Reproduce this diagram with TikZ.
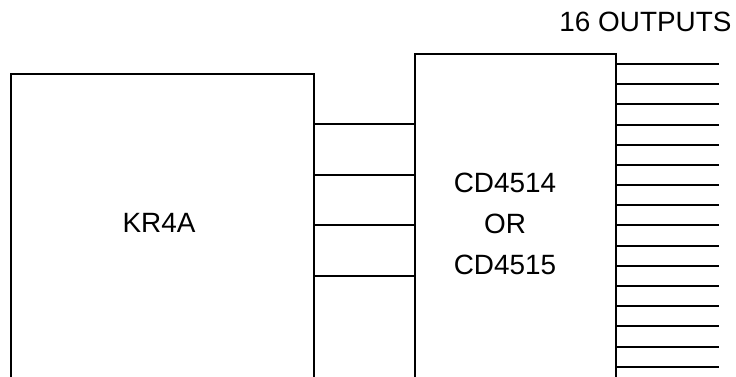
\documentclass[tikz,border=0pt]{standalone}
\usepackage{fontspec}
\setmainfont{Liberation Sans}
\usetikzlibrary{positioning}

\tikzset{
  chip/.style = {draw, line width=2bp, inner sep=0pt},
  wire/.style = {line width=2bp},
  lbl/.style  = {font=\fontsize{28}{41}\selectfont, align=center, inner sep=0pt}
}

\begin{document}
\begin{tikzpicture}[x=1bp, y=-1bp]
    \useasboundingbox (0,0) rectangle (736,376);
    \clip (0,0) rectangle (736,376);

    % the two blocks, both run off the bottom edge
    \node[chip, minimum width=303bp, minimum height=346bp] (kr4a) at (162.5, 247) {};
    \node[chip, minimum width=201bp, minimum height=366bp] (dec) at (515.5, 237) {};

    \node[lbl] (kr4atxt) at (159, 223) {KR4A};
    \node[lbl] (dectxt) at (505, 224) {CD4514\\OR\\CD4515};
    \node[lbl] (outtxt) at (645.5, 22) {16 OUTPUTS};

    % four lines between the blocks
    \foreach \y in {124, 175, 225, 276}
            \draw [wire] (kr4a.east |- 0, \y) -- (dec.west |- 0, \y);

    % sixteen outputs
    \foreach \i in {0, ..., 15}
            \draw [wire] (dec.east |- 0, {round(64 + 20.18*\i)}) -- ++(102, 0);

\end{tikzpicture}
\end{document}
